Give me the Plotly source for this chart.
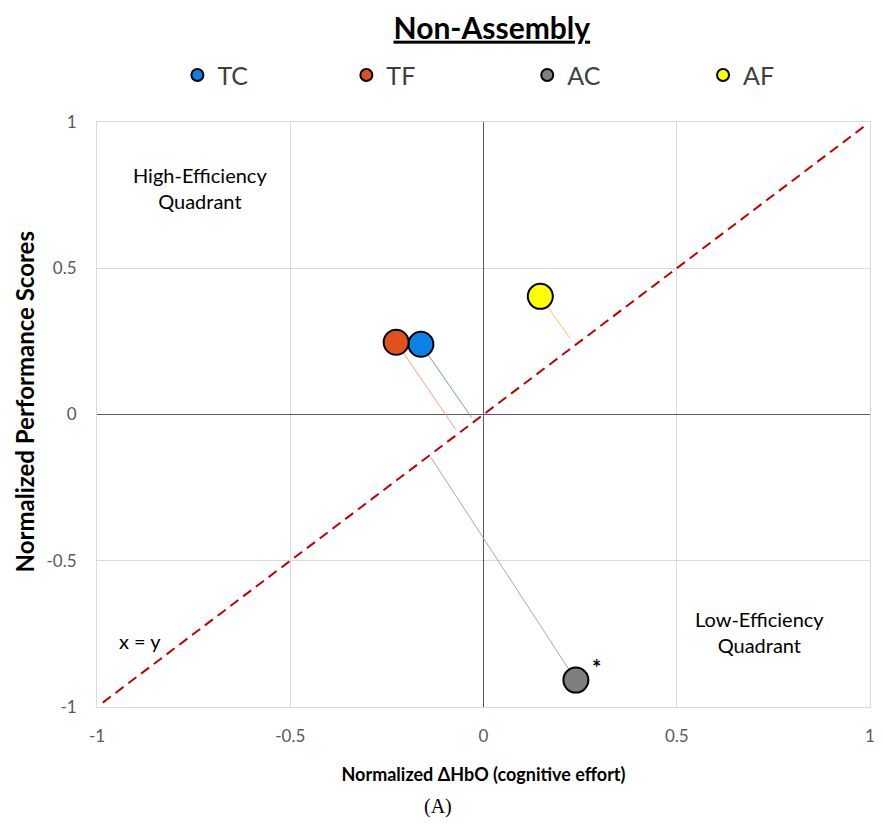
import plotly.graph_objects as go

# ---- data ----
groups = ["TC", "TF", "AC", "AF"]
colors = ["#0a82e6", "#e0521c", "#7f7f7f", "#ffff00"]
line_colors = ["#6a9cc8", "#f0a080", "#a8a8a8", "#f5c060"]
x_vals = [-0.162, -0.226, 0.239, 0.147]
y_vals = [0.240, 0.247, -0.908, 0.404]
# end points of the thin leader lines toward x = y
end_x = [-0.031, -0.072, -0.136, 0.224]
end_y = [-0.010, -0.051, -0.147, 0.260]
diag = [-0.985, 0.99]
tick_vals = [-1, -0.5, 0, 0.5, 1]
tick_text = ["-1", "-0.5", "0", "0.5", "1"]
legend_x = [0.104, 0.3226, 0.5566, 0.784]

FONT = "Lato"

fig = go.Figure()

# diagonal x = y
fig.add_trace(go.Scatter(x=diag, y=diag, mode="lines",
                         line=dict(color="#c00000", width=2, dash="10px,6px"),
                         showlegend=False, hoverinfo="skip"))

# leader lines
for i, g in enumerate(groups):
    fig.add_trace(go.Scatter(x=[x_vals[i], end_x[i]], y=[y_vals[i], end_y[i]],
                             mode="lines", line=dict(color=line_colors[i], width=1),
                             showlegend=False, hoverinfo="skip"))

# points, each in its own legend box so they can be spaced like the reference
legend_names = ["legend", "legend2", "legend3", "legend4"]
for i, g in enumerate(groups):
    fig.add_trace(go.Scatter(x=[x_vals[i]], y=[y_vals[i]], mode="markers", name=g,
                             legend=legend_names[i],
                             marker=dict(size=25, color=colors[i],
                                         line=dict(color="black", width=2))))

ann_font = dict(family=FONT, size=20, color="black")
fig.add_annotation(x=-0.733, y=0.774, text="High-Efficiency<br>Quadrant",
                   showarrow=False, font=ann_font)
fig.add_annotation(x=0.715, y=-0.743, text="Low-Efficiency<br>Quadrant",
                   showarrow=False, font=ann_font)
fig.add_annotation(x=-0.889, y=-0.774, text="x = y", showarrow=False, font=ann_font)
fig.add_annotation(x=0.293, y=-0.865, text="<b>*</b>", showarrow=False,
                   font=dict(family=FONT, size=22, color="black"))
fig.add_annotation(x=(440 - 97) / 778, xref="paper", y=(707 - 806) / 585, yref="paper",
                   text="(A)", showarrow=False, yanchor="middle",
                   font=dict(family="Liberation Serif", size=20, color="black"))
# y axis title
fig.add_annotation(x=(24 - 97) / 778, xref="paper", y=(707 - 402) / 585, yref="paper",
                   text="<b>Normalized Performance Scores</b>", textangle=-90,
                   showarrow=False, xanchor="center", yanchor="middle",
                   font=dict(family=FONT, size=24, color="black"))

axis_common = dict(
    range=[-1, 1], tickvals=tick_vals, ticktext=tick_text,
    showgrid=True, gridcolor="#d9d9d9", gridwidth=1,
    zeroline=True, zerolinecolor="#595959", zerolinewidth=1,
    showline=True, linecolor="#d9d9d9", linewidth=1, mirror=True,
    ticks="", tickfont=dict(family=FONT, size=17, color="#595959"),
    fixedrange=True,
)

leg_common = dict(orientation="h", xanchor="left", y=1.08, yanchor="middle",
                  font=dict(family=FONT, size=25, color="#404040"),
                  itemsizing="constant", bgcolor="rgba(0,0,0,0)")

fig.update_layout(
    width=883, height=829,
    margin=dict(l=97, r=8, t=122, b=122),
    paper_bgcolor="white", plot_bgcolor="white",
    title=dict(text="<b><u>Non-Assembly</u></b>", x=0.557, xanchor="center",
               y=0.966, yanchor="middle",
               font=dict(family=FONT, size=30, color="black")),
    xaxis=dict(**axis_common, ticklabelstandoff=14,
               title=dict(text="<b>Normalized ΔHbO (cognitive effort)</b>",
                          font=dict(family=FONT, size=18, color="black"), standoff=22)),
    yaxis=dict(**axis_common, ticklabelstandoff=16),
    legend=dict(**leg_common, x=legend_x[0]),
    legend2=dict(**leg_common, x=legend_x[1]),
    legend3=dict(**leg_common, x=legend_x[2]),
    legend4=dict(**leg_common, x=legend_x[3]),
    showlegend=True,
)

fig.write_html("out.html")
